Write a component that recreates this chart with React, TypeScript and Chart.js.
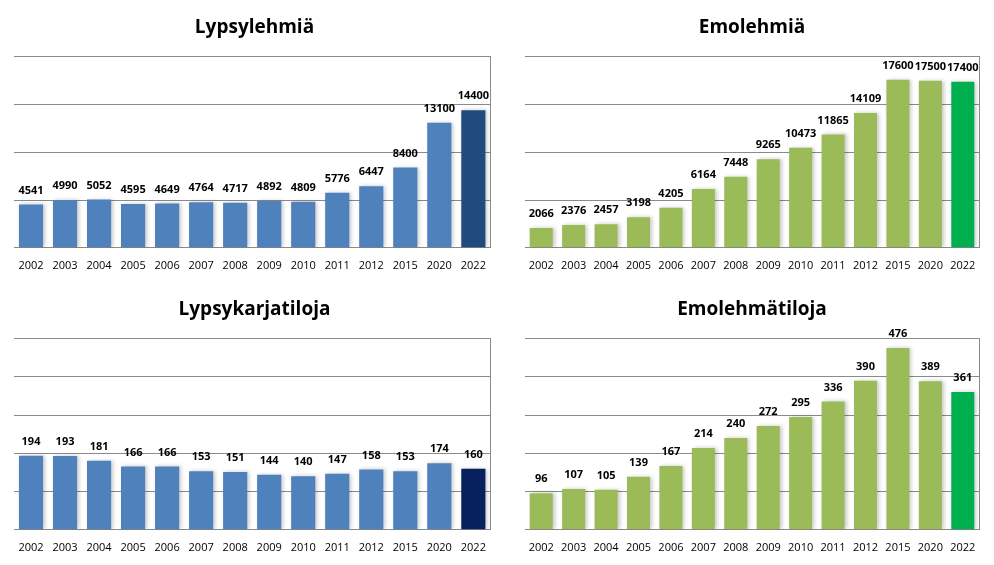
import React, { useEffect, useRef } from "react";
import { Chart, registerables } from "chart.js";

Chart.register(...registerables);

const years = ["2002", "2003", "2004", "2005", "2006", "2007", "2008", "2009", "2010", "2011", "2012", "2015", "2020", "2022"];
const lypsylehmia = [4541, 4990, 5052, 4595, 4649, 4764, 4717, 4892, 4809, 5776, 6447, 8400, 13100, 14400];
const emolehmia = [2066, 2376, 2457, 3198, 4205, 6164, 7448, 9265, 10473, 11865, 14109, 17600, 17500, 17400];
const lypsykarjatiloja = [194, 193, 181, 166, 166, 153, 151, 144, 140, 147, 158, 153, 174, 160];
const emolehmatiloja = [96, 107, 105, 139, 167, 214, 240, 272, 295, 336, 390, 476, 389, 361];

const FONT = "'Open Sans', 'Liberation Sans', sans-serif";

const shadowPlugin = {
  id: "barShadow",
  beforeDatasetsDraw(chart: any) {
    const ctx = chart.ctx;
    ctx.save();
    ctx.shadowColor = "rgba(0,0,0,0.22)";
    ctx.shadowBlur = 4;
    ctx.shadowOffsetX = 2;
    ctx.shadowOffsetY = 0;
  },
  afterDatasetsDraw(chart: any) {
    chart.ctx.restore();
  },
};

const labelPlugin = {
  id: "valueLabels",
  afterDraw(chart: any) {
    const ctx = chart.ctx;
    ctx.save();
    ctx.font = `bold 11px ${FONT}`;
    ctx.fillStyle = "#000";
    ctx.textAlign = "center";
    ctx.textBaseline = "middle";
    const meta = chart.getDatasetMeta(0);
    const data = chart.data.datasets[0].data;
    meta.data.forEach((bar: any, i: number) => {
      ctx.fillText(String(data[i]), bar.x, bar.y - 14);
    });
    ctx.restore();
  },
};

type Props = {
  title: string;
  values: number[];
  color: string;
  lastColor: string;
  max: number;
  step: number;
  left: number;
  top: number;
  padLeft: number;
  padRight: number;
};

function BarChart({ title, values, color, lastColor, max, step, left, top, padLeft, padRight }: Props) {
  const ref = useRef<HTMLCanvasElement>(null);
  useEffect(() => {
    if (!ref.current) return;
    const colors = values.map((_, i) => (i === values.length - 1 ? lastColor : color));
    const chart = new Chart(ref.current, {
      type: "bar",
      data: {
        labels: years,
        datasets: [
          {
            data: values,
            backgroundColor: colors,
            borderWidth: 0,
            barPercentage: 0.71,
            categoryPercentage: 1,
          },
        ],
      },
      options: {
        responsive: false,
        animation: false,
        layout: { padding: { left: padLeft, right: padRight, top: 0, bottom: 0 } },
        plugins: {
          legend: { display: false },
          tooltip: { enabled: false },
          title: {
            display: true,
            text: title,
            color: "#000",
            font: { family: FONT, size: 19, weight: "bold", lineHeight: 1.2 },
            padding: { top: 16, bottom: 18 },
          },
        },
        scales: {
          x: {
            grid: { display: false, drawTicks: false },
            border: { display: true, color: "#8a8a8a", width: 1 },
            ticks: { color: "#000", font: { family: FONT, size: 11 }, padding: 11, maxRotation: 0, autoSkip: false },
          },
          y: {
            min: 0,
            max: max,
            ticks: { display: false, stepSize: step },
            grid: { color: "#8a8a8a", lineWidth: 1, drawTicks: false },
            border: { display: false },
          },
          y2: {
            position: "right",
            display: true,
            ticks: { display: false },
            grid: { display: false, drawTicks: false },
            border: { display: true, color: "#8a8a8a", width: 1 },
          },
        },
      },
      plugins: [shadowPlugin, labelPlugin],
    } as any);
    return () => chart.destroy();
  }, []);
  return (
    <canvas
      ref={ref}
      width={497}
      height={283}
      style={{ position: "absolute", left, top, width: 497, height: 283 }}
    />
  );
}

export default function App() {
  return (
    <div style={{ position: "absolute", left: 0, top: 0, width: 994, height: 565, background: "#fff" }}>
      <BarChart title="Lypsylehmiä" values={lypsylehmia} color="#4F81BD" lastColor="#214A7E" max={20000} step={5000} left={0} top={0} padLeft={14} padRight={2} />
      <BarChart title="Emolehmiä" values={emolehmia} color="#9BBB59" lastColor="#00B050" max={20000} step={5000} left={497} top={0} padLeft={28} padRight={15} />
      <BarChart title="Lypsykarjatiloja" values={lypsykarjatiloja} color="#4F81BD" lastColor="#06215E" max={500} step={100} left={0} top={282} padLeft={14} padRight={2} />
      <BarChart title="Emolehmätiloja" values={emolehmatiloja} color="#9BBB59" lastColor="#00B050" max={500} step={100} left={497} top={282} padLeft={28} padRight={15} />
    </div>
  );
}
